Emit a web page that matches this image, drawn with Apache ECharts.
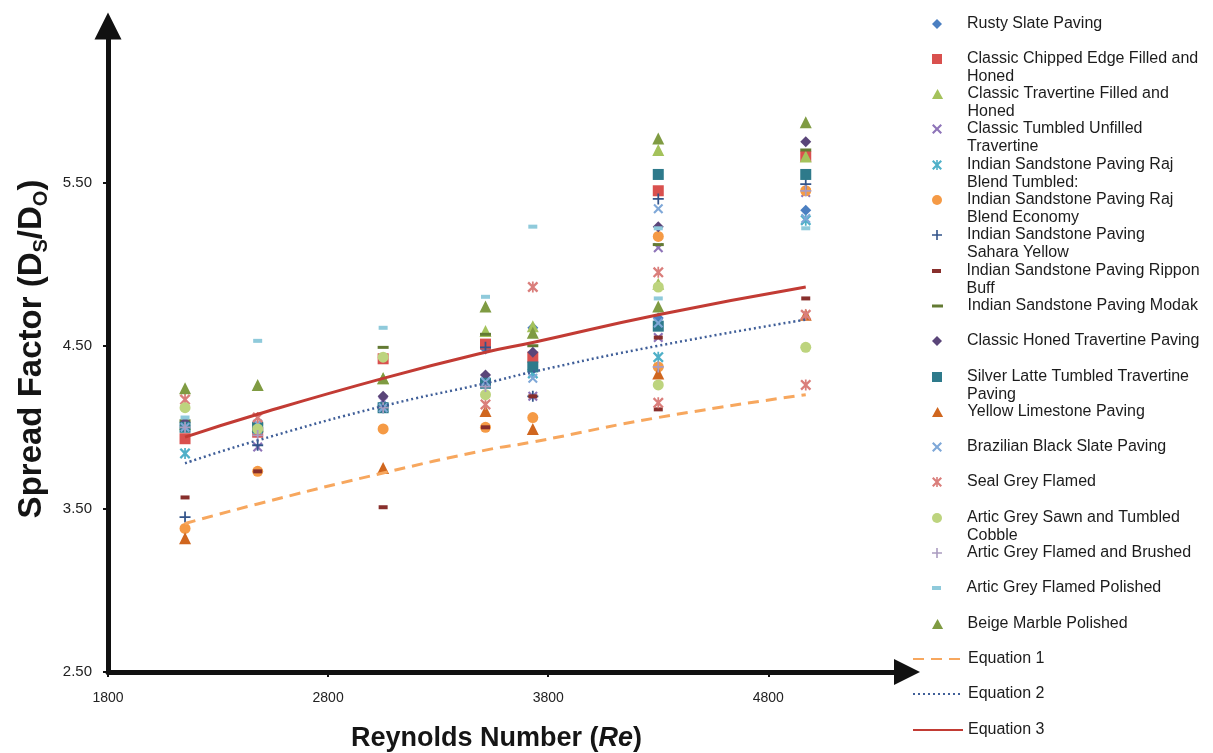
<!DOCTYPE html>
<html>
<head>
<meta charset="utf-8">
<script src="https://cdn.jsdelivr.net/npm/echarts@6/dist/echarts.min.js"></script>
<style>
  html, body { margin: 0; padding: 0; background: #ffffff; }
  #chart { width: 1213px; height: 753px; }
</style>
</head>
<body>
<div id="chart"></div>
<script>
// Spread factor (Ds/Do) measured against Reynolds number, one list per paving material
const rustySlate        = [[2150, 4.01], [2480, 3.99], [3050, 4.14], [3515, 4.48], [3730, 4.61], [4300, 4.67], [4970, 5.33]];
const classicChipped    = [[2150, 3.93], [2480, 3.97], [3050, 4.42], [3515, 4.51], [3730, 4.43], [4300, 5.45], [4970, 5.66]];
const classicTravertine = [[2150, 4.02], [2480, 4.01], [3050, 4.30], [3515, 4.59], [3730, 4.62], [4300, 5.70], [4300, 4.88], [4970, 5.66]];
const classicTumbled    = [[2150, 4.00], [2480, 3.88], [3050, 4.16], [3515, 4.30], [3730, 4.19], [4300, 5.10], [4300, 4.55], [4970, 5.44]];
const rajTumbled        = [[2150, 3.84], [2480, 3.99], [3050, 4.12], [3515, 4.27], [3730, 4.33], [4300, 4.43], [4970, 5.27]];
const rajEconomy        = [[2150, 3.38], [2480, 3.73], [3050, 3.99], [3515, 4.00], [3730, 4.06], [4300, 5.17], [4300, 4.37], [4970, 5.45]];
const saharaYellow      = [[2150, 3.45], [2480, 3.89], [3050, 4.13], [3515, 4.49], [3730, 4.19], [4300, 5.40], [4970, 5.49]];
const ripponBuff        = [[2150, 3.57], [2480, 3.73], [3050, 3.51], [3515, 4.00], [3730, 4.19], [4300, 4.55], [4300, 4.11], [4970, 4.79]];
const modak             = [[2150, 4.04], [2480, 4.02], [3050, 4.49], [3515, 4.57], [3730, 4.50], [4300, 5.12], [4970, 5.70]];
const classicHoned      = [[2150, 4.03], [2480, 4.00], [3050, 4.19], [3515, 4.32], [3730, 4.46], [4300, 5.23], [4970, 5.75]];
const silverLatte       = [[2150, 4.00], [2480, 4.00], [3050, 4.12], [3515, 4.27], [3730, 4.37], [4300, 5.55], [4300, 4.62], [4970, 5.55]];
const yellowLimestone   = [[2150, 3.32], [3050, 3.75], [3515, 4.10], [3730, 3.99], [4300, 4.33], [4970, 4.69]];
const brazilianSlate    = [[2150, 4.00], [2480, 4.02], [3050, 4.12], [3515, 4.28], [3730, 4.30], [4300, 5.34], [4300, 4.64], [4970, 5.28]];
const sealGrey          = [[2150, 4.17], [2480, 4.06], [3515, 4.14], [3730, 4.86], [4300, 4.95], [4300, 4.15], [4970, 4.69], [4970, 4.26]];
const articSawn         = [[2150, 4.12], [2480, 3.99], [3050, 4.43], [3515, 4.20], [4300, 4.86], [4300, 4.26], [4970, 4.49]];
const articBrushed      = [[2150, 4.00], [2480, 3.95], [3050, 4.12], [3515, 4.25], [4300, 4.37], [4970, 5.45]];
const articPolished     = [[2150, 4.06], [2480, 4.53], [3050, 4.61], [3515, 4.80], [3730, 5.23], [4300, 5.22], [4300, 4.79], [4970, 5.22]];
const beigeMarble       = [[2150, 4.24], [2480, 4.26], [3050, 4.30], [3515, 4.74], [3730, 4.58], [4300, 5.77], [4300, 4.74], [4970, 5.87]];

// Predicted spread factor curves
const equation1 = [[2150, 3.41], [2480, 3.53], [3050, 3.72], [3515, 3.86], [3730, 3.91], [4300, 4.06], [4970, 4.20]];
const equation2 = [[2150, 3.78], [2480, 3.92], [3050, 4.13], [3515, 4.27], [3730, 4.34], [4300, 4.50], [4970, 4.66]];
const equation3 = [[2150, 3.94], [2480, 4.08], [3050, 4.30], [3515, 4.46], [3730, 4.52], [4300, 4.69], [4970, 4.86]];

// Axis tick labels
const xTickValues = [1800, 2800, 3800, 4800];
const yTickValues = [2.5, 3.5, 4.5, 5.5];

const FONT = '"Liberation Sans", Arial, sans-serif';

// Marker outlines (10 x 10 boxes)
const CROSS = 'M1.5,0L5,3.5L8.5,0L10,1.5L6.5,5L10,8.5L8.5,10L5,6.5L1.5,10L0,8.5L3.5,5L0,1.5Z';
const SYM = {
  diamond:  'path://M5,0L10,5L5,10L0,5Z',
  square:   'path://M0,0H10V10H0Z',
  triangle: 'path://M5,0L10,9L0,9Z',
  circle:   'path://M5,0A5,5,0,1,1,5,10A5,5,0,1,1,5,0Z',
  cross:    'path://' + CROSS,
  star:     'path://' + CROSS + 'M4.2,0H5.8V10H4.2Z',
  plus:     'path://M4.2,0H5.8V4.2H10V5.8H5.8V10H4.2V5.8H0V4.2H4.2Z',
  dash:     'path://M0,0H9V4H0Z',
  longDash: 'path://M0,0H11V3H0Z'
};
const ARROW_HEAD = 'path://M5,0L10,10L0,10Z';

// name, data, marker, colour, marker size, legend label
const scatterDefs = [
  ['Rusty Slate Paving', rustySlate, 'diamond', '#4B7FC1', 11, 'Rusty Slate Paving'],
  ['Classic Chipped Edge Filled and Honed', classicChipped, 'square', '#D9504E', 11, 'Classic Chipped Edge Filled and\nHoned'],
  ['Classic Travertine Filled and Honed', classicTravertine, 'triangle', '#A4C25B', 12, 'Classic Travertine Filled and\nHoned'],
  ['Classic Tumbled Unfilled Travertine', classicTumbled, 'cross', '#8E74B8', 10, 'Classic Tumbled Unfilled\nTravertine'],
  ['Indian Sandstone Paving Raj Blend Tumbled:', rajTumbled, 'star', '#4FB0C8', 11, 'Indian Sandstone Paving Raj\nBlend Tumbled:'],
  ['Indian Sandstone Paving Raj Blend Economy', rajEconomy, 'circle', '#F59A45', 11, 'Indian Sandstone Paving Raj\nBlend Economy'],
  ['Indian Sandstone Paving Sahara Yellow', saharaYellow, 'plus', '#33548A', 11, 'Indian Sandstone Paving\nSahara Yellow'],
  ['Indian Sandstone Paving Rippon Buff', ripponBuff, 'dash', '#882F2C', [9, 4], 'Indian Sandstone Paving Rippon\nBuff'],
  ['Indian Sandstone Paving Modak', modak, 'longDash', '#637A33', [11, 3], 'Indian Sandstone Paving Modak'],
  ['Classic Honed Travertine Paving', classicHoned, 'diamond', '#5A4579', 11, 'Classic Honed Travertine Paving'],
  ['Silver Latte Tumbled Travertine Paving', silverLatte, 'square', '#2E7A8B', 11, 'Silver Latte Tumbled Travertine\nPaving'],
  ['Yellow Limestone Paving', yellowLimestone, 'triangle', '#D0661E', 12, 'Yellow Limestone Paving'],
  ['Brazilian Black Slate Paving', brazilianSlate, 'cross', '#7FA8D8', 10, 'Brazilian Black Slate Paving'],
  ['Seal Grey Flamed', sealGrey, 'star', '#DA7E7B', 11, 'Seal Grey Flamed'],
  ['Artic Grey Sawn and Tumbled Cobble', articSawn, 'circle', '#BDD47E', 11, 'Artic Grey Sawn and Tumbled\nCobble'],
  ['Artic Grey Flamed and Brushed', articBrushed, 'plus', '#AA9CC0', 11, 'Artic Grey Flamed and Brushed'],
  ['Artic Grey Flamed Polished', articPolished, 'dash', '#8FCADB', [9, 4], 'Artic Grey Flamed Polished'],
  ['Beige Marble Polished', beigeMarble, 'triangle', '#7F9B42', 12, 'Beige Marble Polished']
];

// name, data, line style
const lineDefs = [
  ['Equation 1', equation1, { color: '#F7A75E', width: 3, type: [11, 7] }],
  ['Equation 2', equation2, { color: '#3F5E98', width: 2.5, type: [2, 3] }],
  ['Equation 3', equation3, { color: '#C23B34', width: 3, type: 'solid' }]
];

const series = [];
scatterDefs.forEach(([name, data, sym, color, size]) => {
  series.push({
    type: 'scatter', name, data,
    symbol: SYM[sym], symbolSize: size,
    itemStyle: { color, opacity: 1 },
    silent: true
  });
});
lineDefs.forEach(([name, data, lineStyle]) => {
  series.push({
    type: 'line', name, data, smooth: true,
    symbol: 'none', showSymbol: false,
    lineStyle, itemStyle: { color: lineStyle.color },
    silent: true, z: 3
  });
});

// One legend block per entry so every row sits on an even pitch,
// with the marker level with the first line of the label.
const LH = 18;
const legendEntries = scatterDefs.map(d => ({
  name: d[0], label: d[5], line: false,
  iconH: Array.isArray(d[4]) ? d[4][1] : 10
})).concat(lineDefs.map(d => ({ name: d[0], label: d[0], line: true, iconH: 12 })));

const legends = legendEntries.map((e, i) => {
  const twoLines = e.label.indexOf('\n') >= 0;
  // a blank leading line keeps the first label line centred on the marker
  const text = twoLines ? '\n' + e.label : e.label;
  const boxH = twoLines ? 3 * LH : LH;
  const yc = 23.5 + i * 35.3;
  const lg = {
    data: [e.name],
    orient: 'vertical',
    left: e.line ? 912 : 932,
    top: Math.round(yc - boxH / 2),
    padding: 0,
    itemWidth: 50,
    itemHeight: e.iconH,
    selectedMode: false,
    formatter: () => text,
    textStyle: {
      fontFamily: FONT, fontSize: 16, lineHeight: LH, color: '#1c1c1c',
      backgroundColor: 'transparent'
    }
  };
  if (e.line) lg.itemStyle = { opacity: 0 };
  return lg;
});

const axisLineStyle = { color: '#111111', width: 5 };

const option = {
  animation: false,
  backgroundColor: '#ffffff',
  grid: { left: 108, right: 306, top: 26, bottom: 81, containLabel: false, outerBoundsMode: 'none' },
  xAxis: {
    type: 'value', min: 1800, max: 5430, interval: 1000,
    name: '{b|Reynolds Number (}{i|Re}{b|)}',
    nameLocation: 'middle', nameGap: 53,
    nameTextStyle: {
      fontFamily: FONT, color: '#151515', padding: [0, 22, 0, 0],
      rich: {
        b: { fontFamily: FONT, fontSize: 27, fontWeight: 'bold', color: '#151515' },
        i: { fontFamily: FONT, fontSize: 27, fontWeight: 'bold', fontStyle: 'italic', color: '#151515' }
      }
    },
    splitLine: { show: false },
    axisLine: { lineStyle: axisLineStyle, symbol: ['none', ARROW_HEAD], symbolSize: [28, 26] },
    axisTick: { show: true, length: 5, lineStyle: { color: '#111', width: 2 }, customValues: xTickValues },
    axisLabel: {
      fontFamily: FONT, fontSize: 14, color: '#222', margin: 19,
      customValues: xTickValues, formatter: v => String(v)
    }
  },
  yAxis: {
    type: 'value', min: 2.5, max: 6.46, interval: 1,
    name: '{b|Spread Factor (D}{s|S}{b|/D}{s|O}{b|)}',
    nameLocation: 'middle', nameGap: 50, nameRotate: 90,
    nameTextStyle: {
      fontFamily: FONT, color: '#151515',
      rich: {
        b: { fontFamily: FONT, fontSize: 33, fontWeight: 'bold', color: '#151515', lineHeight: 36, verticalAlign: 'top' },
        s: { fontFamily: FONT, fontSize: 20, fontWeight: 'bold', color: '#151515', lineHeight: 20, verticalAlign: 'bottom', padding: [19, 0, 0, 0] }
      }
    },
    splitLine: { show: false },
    axisLine: { lineStyle: axisLineStyle, symbol: ['none', ARROW_HEAD], symbolSize: [28, 27] },
    axisTick: { show: true, length: 5, lineStyle: { color: '#111', width: 2 }, customValues: yTickValues },
    axisLabel: {
      fontFamily: FONT, fontSize: 15, color: '#222', margin: 16,
      customValues: yTickValues, formatter: v => v.toFixed(2)
    }
  },
  legend: legends,
  series
};

const chart = echarts.init(document.getElementById('chart'), null, { renderer: 'canvas' });
chart.setOption(option);
</script>
</body>
</html>
